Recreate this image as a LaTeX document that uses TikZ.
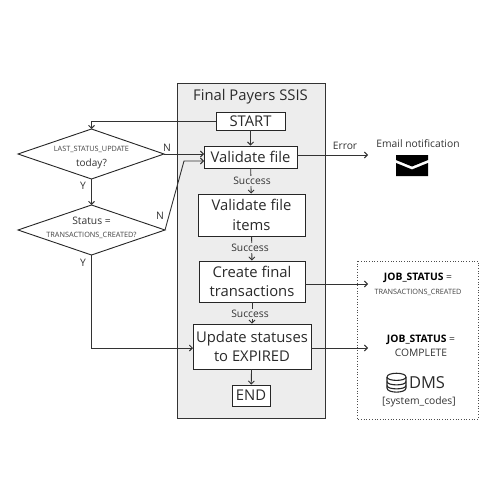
\documentclass[tikz,border=0pt]{standalone}
\usepackage{fontspec}
\setmainfont{Open Sans}
\usetikzlibrary{arrows.meta,shapes.geometric}
\definecolor{txt}{HTML}{2A2A2A}
\definecolor{panelgray}{HTML}{EDEDED}
\tikzset{
 x=1pt,y=-1pt,
 proc/.style={draw=black!85,line width=0.95pt,fill=white,inner sep=0pt,align=center,font=\fontsize{14.8}{19.5}\selectfont,text=txt},
 link/.style={draw=black!80,line width=0.9pt,-{Straight Barb[length=3pt,width=6pt]}},
 lab/.style={inner sep=0pt,font=\fontsize{10.3}{12}\selectfont,text=black!80,align=center},
 small/.style={inner sep=0pt,font=\fontsize{7.3}{9}\selectfont,text=black!75,align=center},
 dia/.style={draw=black!85,line width=0.9pt,fill=white},
}
\newcommand{\pbox}[5]{\node[proc,minimum width=#3,minimum height=#4] (#1) at (#2) {#5};}
\begin{document}
\begin{tikzpicture}
\useasboundingbox (0,0) rectangle (500,500);
\node[draw=black!80,line width=1pt,fill=panelgray,minimum width=148pt,minimum height=334pt,inner sep=0pt] (panel) at (251,251) {};
\node[inner sep=0pt,font=\fontsize{14.8}{16}\selectfont,text=txt] (title) at (250.5,97) {Final Payers SSIS};
\pbox{start}{250.5,121}{69pt}{18pt}{START}
\pbox{vf}{250.5,157}{93pt}{22pt}{Validate file}
\pbox{vi}{251.5,215}{107pt}{42pt}{Validate file\\items}
\pbox{cf}{252,281.5}{106pt}{41pt}{Create final\\transactions}
\pbox{us}{252,346.5}{118pt}{45pt}{Update statuses\\to EXPIRED}
\pbox{en}{251,395.5}{38pt}{21pt}{END}
% diamonds
\path[dia] (18,154) coordinate (d1l) -- (91.5,129) coordinate (d1t) -- (164,154) coordinate (d1r) -- (91.5,179) coordinate (d1b) -- cycle;
\path[dia] (18,230) coordinate (d2l) -- (91.5,205) coordinate (d2t) -- (165,230) coordinate (d2r) -- (91.5,255) coordinate (d2b) -- cycle;
\node[small] (d1a) at (91.5,149) {LAST\_STATUS\_UPDATE};
\node[lab,font=\fontsize{10}{12}\selectfont] (d1c) at (91.5,164) {today?};
\node[lab] (d2a) at (91.5,221) {Status =};
\node[small] (d2c) at (91.5,235) {TRANSACTIONS\_CREATED?};
\coordinate (bendA) at (91.5,121);
\coordinate (bendB) at (184,161);
\coordinate (inB) at (204,161);
\coordinate (inA) at (204,154);
\coordinate (bendC) at (91.5,348);
\coordinate (inC) at (193,348);
\coordinate (outE) at (368,155);
\coordinate (outJ) at (368,284);
\coordinate (outK) at (368,348);
% connectors
\draw[link] (start.west) -- (bendA) -- (d1t);
\draw[link] (start) -- (vf);
\draw[link] (d1r) -- (inA);
\draw[link] (d2r) -- (bendB) -- (inB);
\draw[link] (d1b) -- (d2t);
\draw[link] (d2b) -- (bendC) -- (inC);
\draw[link] (us) -- (en);
\draw[link] (vf.east |- outE) -- (outE);
\draw[link] (cf.east |- outJ) -- (outJ);
\draw[link] (us.east |- outK) -- (outK);
\draw[link] (vf) -- (vi);
\draw[link] (vi) -- (cf);
\draw[link] (cf) -- (us);
\node[lab,fill=panelgray,inner ysep=1pt] (s1) at (252,181) {Success};
\node[lab,fill=panelgray,inner ysep=1pt] (s2) at (250,248) {Success};
\node[lab,fill=panelgray,inner ysep=1pt] (s3) at (250,314) {Success};
\node[lab] (n1) at (167,148) {N};
\node[lab] (n2) at (160,216) {N};
\node[lab] (y1) at (83,186) {Y};
\node[lab] (y2) at (83,263) {Y};
\node[lab] (err) at (345,146) {Error};
\node[lab] (em) at (418,144) {Email notification};
% envelope
\fill[black] (396,155) -- (428,155) -- (428,160) -- (412,166.5) -- (396,160) -- cycle;
\fill[black] (396,163) -- (412,169.5) -- (428,163) -- (428,176) -- (396,176) -- cycle;
% store
\draw[black!70,line width=0.7pt,dotted] (357,261) rectangle (478,419);
\node[lab] (j1) at (418,278) {\textbf{\textcolor{black}{JOB\_STATUS}} =};
\node[small] (j1b) at (418,292) {TRANSACTIONS\_CREATED};
\node[lab] (j2) at (421,340) {\textbf{\textcolor{black}{JOB\_STATUS}} =};
\node[lab] (j2b) at (421,353) {COMPLETE};
\node[inner sep=0pt,font=\fontsize{16.5}{18}\selectfont,text=txt] (dms) at (427,383) {DMS};
\node[lab] (sc) at (419,402) {[system\_codes]};
% database icon
\begin{scope}[line width=1.1pt,draw=black!85]
\draw (387,377) .. controls (387,372) and (406,372) .. (406,377) .. controls (406,381.5) and (387,381.5) .. (387,377);
\draw (387,377) -- (387,388) .. controls (387,393.5) and (406,393.5) .. (406,388) -- (406,377);
\draw (387,381.5) .. controls (387,386) and (406,386) .. (406,381.5);
\draw (387,385.5) .. controls (387,390) and (406,390) .. (406,385.5);
\end{scope}
\end{tikzpicture}
\end{document}
